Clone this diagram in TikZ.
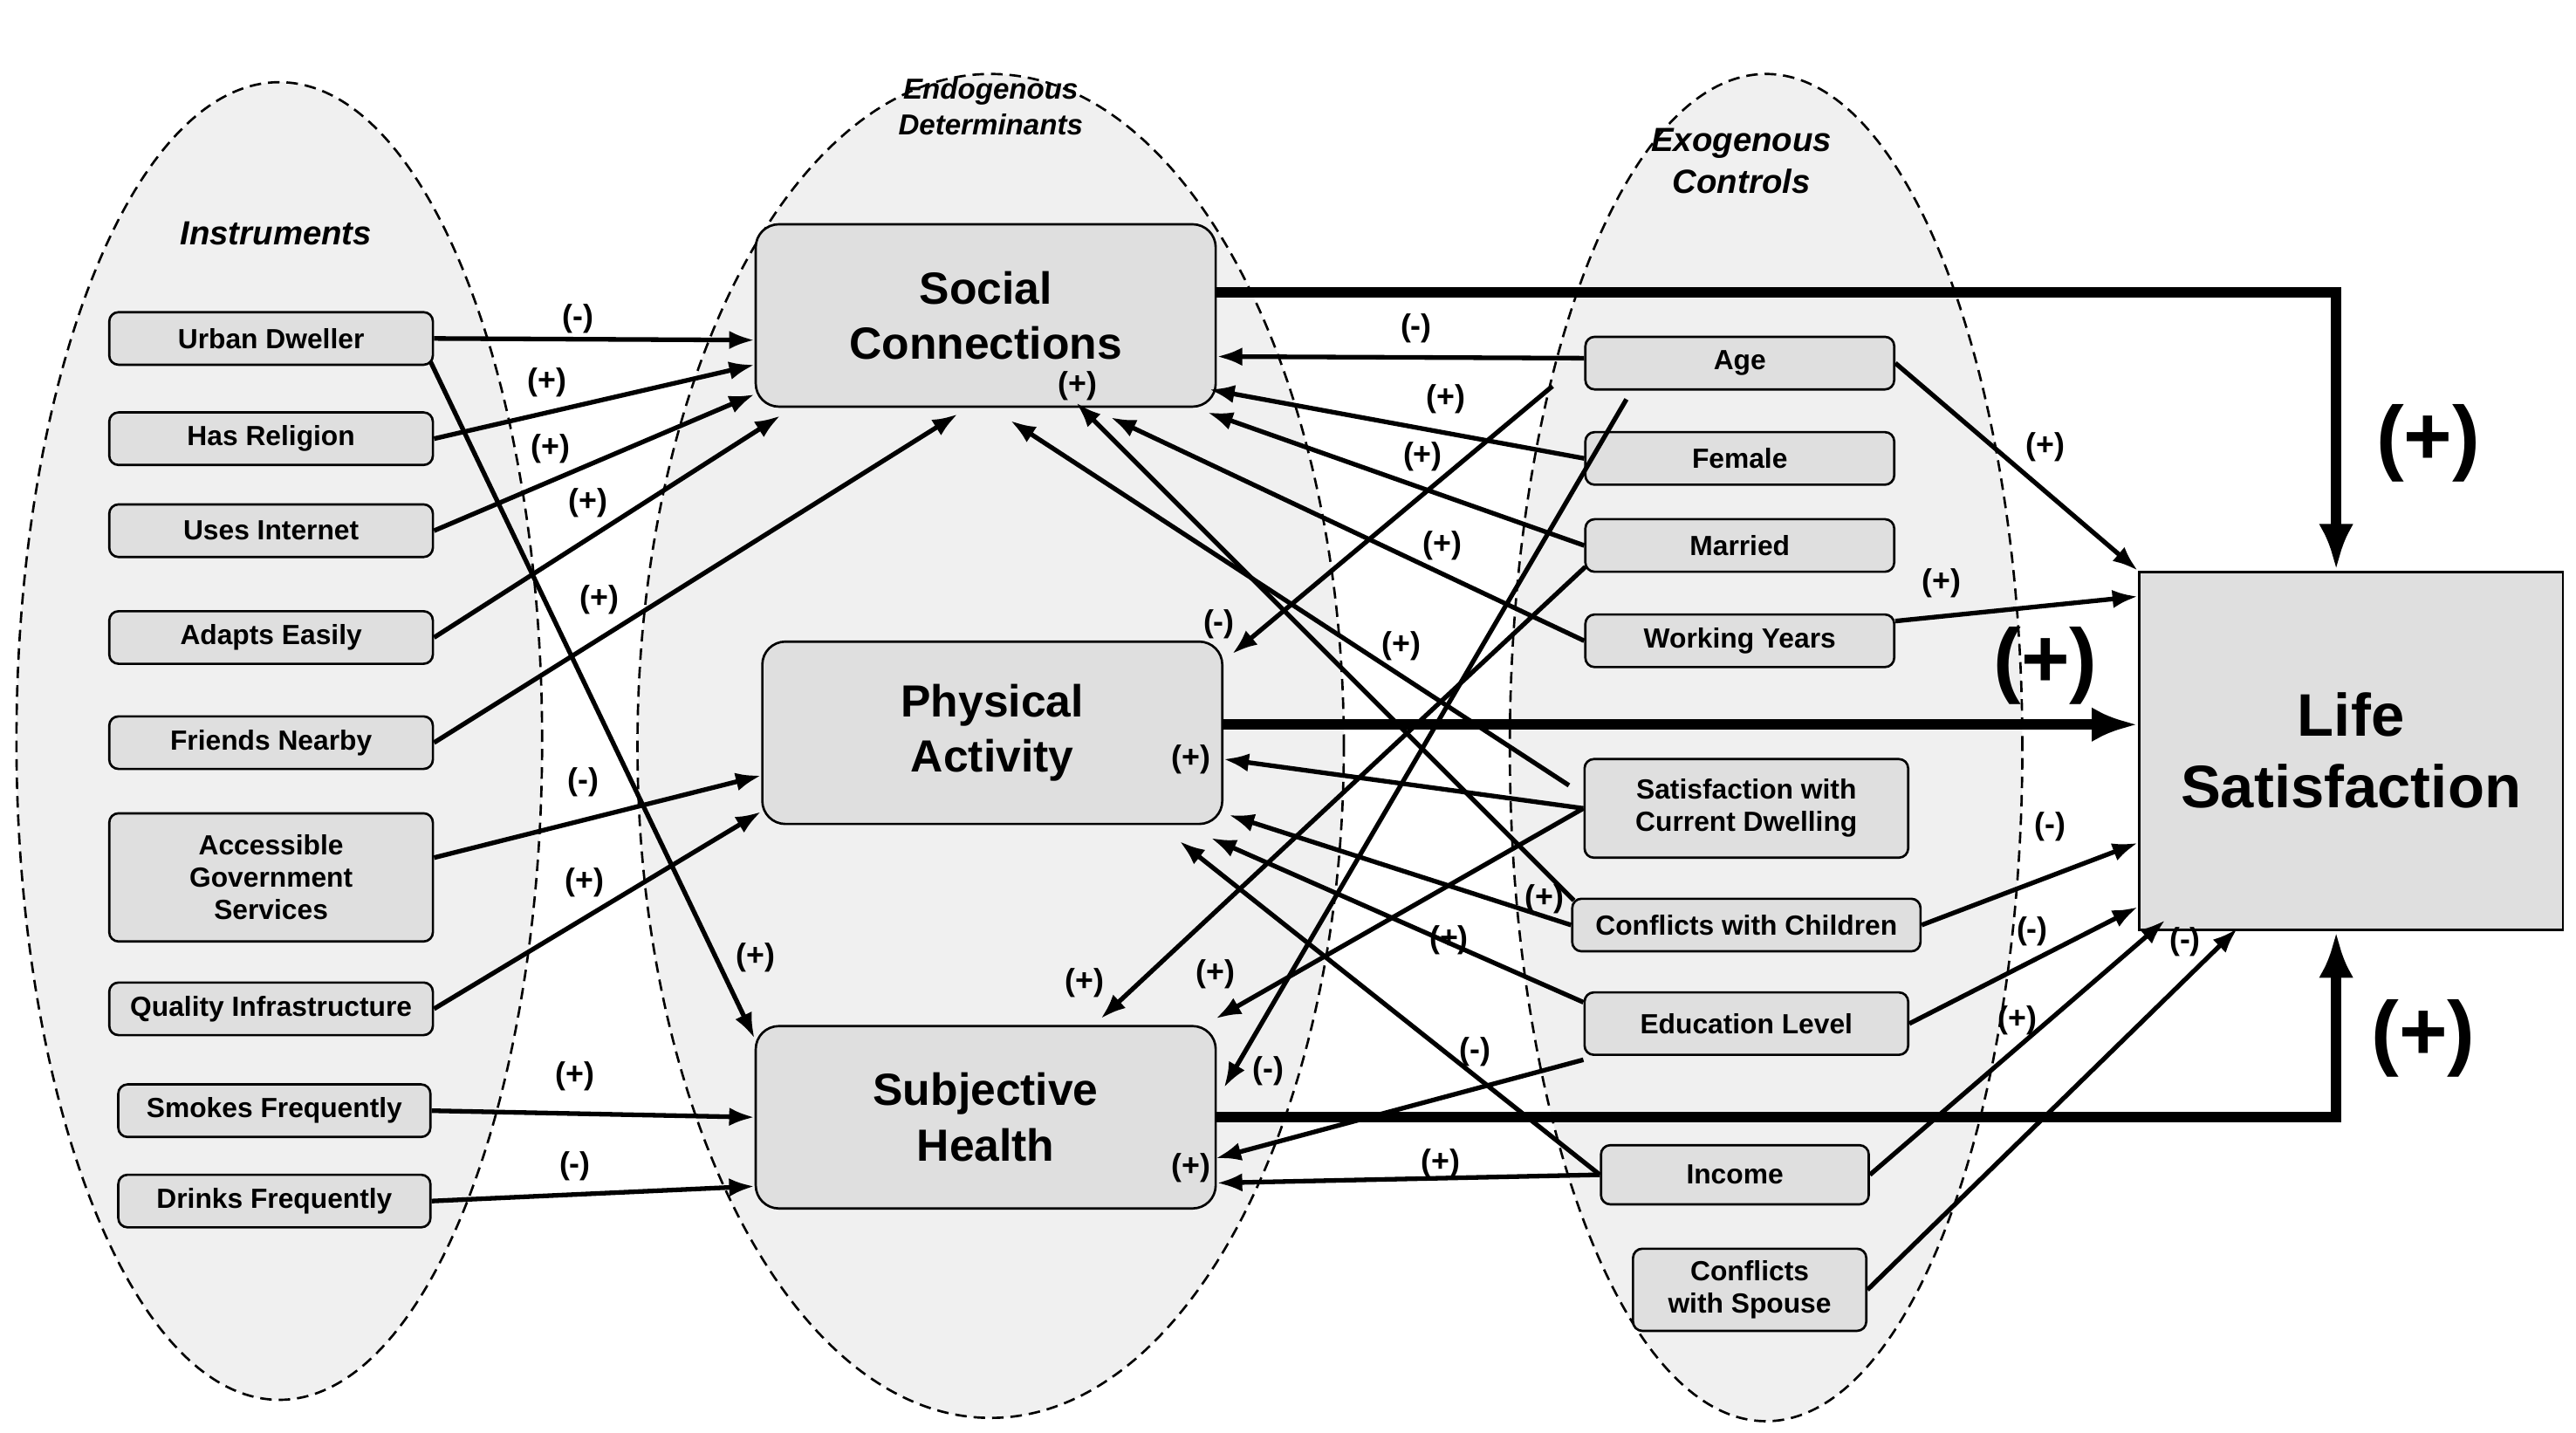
\documentclass[tikz,border=0pt]{standalone}
\usepackage{fontspec}
\setmainfont{Liberation Sans}
\usetikzlibrary{arrows.meta,shapes.geometric}
\begin{document}
\begin{tikzpicture}[x=0.05cm,y=-0.05cm,
 grp/.style={ellipse,draw,dash pattern=on 10pt off 6pt,line width=2pt,fill=gray!12},
 sb/.style={draw,rounded corners=8pt,fill=gray!25,line width=2pt,font=\fontsize{24}{28}\selectfont\bfseries,align=center,inner sep=2pt,minimum height=1.6cm},
 bb/.style={draw,rounded corners=20pt,fill=gray!25,line width=2pt,font=\fontsize{39}{48}\selectfont\bfseries,align=center,minimum width=14cm,minimum height=5.55cm},
 ar/.style={-{Latex[length=22pt,width=16pt]},line width=4pt},
 tk/.style={-{Latex[length=40pt,width=30pt]},line width=9pt},
 lb/.style={font=\fontsize{27}{30}\selectfont\bfseries},
 bl/.style={font=\fontsize{72}{76}\selectfont\bfseries},
 tt/.style={font=\fontsize{29}{36}\selectfont\bfseries\itshape,align=center}]
\useasboundingbox (0,0) rectangle (1568,872);
\node[grp,minimum width=16cm,minimum height=40.1cm] (e1) at (170,451) {};
\node[grp,minimum width=21.5cm,minimum height=40.9cm] (e2) at (603,454) {};
\node[grp,minimum width=15.6cm,minimum height=41cm] (e3) at (1075,455) {};
\node[tt] (t1) at (168,142) {Instruments};
\node[tt,font=\fontsize{25}{31}\selectfont\bfseries\itshape] (t2) at (603,65) {Endogenous\\Determinants};
\node[tt] (t3) at (1060,98) {Exogenous\\Controls};
% instruments
\node[sb,minimum width=9.85cm] (ud) at (165,206) {Urban Dweller};
\node[sb,minimum width=9.85cm] (hr) at (165,267) {Has Religion};
\node[sb,minimum width=9.85cm] (ui) at (165,323) {Uses Internet};
\node[sb,minimum width=9.85cm] (ae) at (165,388) {Adapts Easily};
\node[sb,minimum width=9.85cm] (fn) at (165,452) {Friends Nearby};
\node[sb,minimum width=9.85cm,minimum height=3.9cm] (ag) at (165,534) {Accessible\\Government\\Services};
\node[sb,minimum width=9.85cm,inner sep=1pt] (qi) at (165,614) {Quality Infrastructure};
\node[sb,minimum width=9.5cm] (sf) at (167,676) {Smokes Frequently};
\node[sb,minimum width=9.5cm] (df) at (167,731) {Drinks Frequently};
% endogenous
\node[bb] (sc) at (600,192) {Social\\Connections};
\node[bb] (pa) at (604,446) {Physical\\Activity};
\node[bb] (sh) at (600,680) {Subjective\\Health};
% exogenous
\node[sb,minimum width=9.4cm] (age) at (1059,221) {Age};
\node[sb,minimum width=9.4cm] (fe) at (1059,279) {Female};
\node[sb,minimum width=9.4cm] (ma) at (1059,332) {Married};
\node[sb,minimum width=9.4cm] (wy) at (1059,390) {Working Years};
\node[sb,minimum width=9.85cm,minimum height=3cm] (sd) at (1063,492) {Satisfaction with\\Current Dwelling};
\node[sb,minimum width=10.6cm,inner sep=1pt] (cc) at (1063,563) {Conflicts with Children};
\node[sb,minimum width=9.85cm,minimum height=1.9cm] (el) at (1063,623) {Education Level};
\node[sb,minimum width=8.15cm,minimum height=1.8cm] (in) at (1056,715) {Income};
\node[sb,minimum width=7.1cm,minimum height=2.5cm] (cs) at (1065,785) {Conflicts\\with Spouse};
\node[draw,fill=gray!25,line width=2pt,minimum width=12.9cm,minimum height=10.9cm,font=\fontsize{52}{62}\selectfont\bfseries,align=center,inner sep=1pt] (ls) at (1431,457) {Life\\Satisfaction};
% instrument arrows
\draw[ar] (ud.east) -- (sc.west |- 0,207) node[lb,pos=0.45,above] {(-)};
\draw[ar] (hr.east) -- (sc.west |- 0,222);
\node[lb] (l2) at (333,233) {(+)};
\draw[ar] (ui.east) -- (sc.west |- 0,240);
\node[lb] (l3) at (335,273) {(+)};
\draw[ar] (ae.east) -- (475,253);
\node[lb] (l4) at (358,306) {(+)};
\draw[ar] (fn.east) -- (583,252);
\node[lb] (l5) at (365,365) {(+)};
\draw[ar] (262,220) -- (sh.west |- 0,632);
\node[lb] (l6) at (460,583) {(+)};
\draw[ar] (ag.east |- 0,522) -- (pa.west |- 0,472);
\node[lb] (l7) at (355,476) {(-)};
\draw[ar] (qi.east) -- (pa.west |- 0,494);
\node[lb] (l8) at (356,537) {(+)};
\draw[ar] (sf.east) -- (sh.west |- 0,680);
\node[lb] (l9) at (350,655) {(+)};
\draw[ar] (df.east) -- (sh.west |- 0,722);
\node[lb] (l10) at (350,710) {(-)};
% exogenous -> endogenous
\draw[ar] (age.west |- 0,218) -- (sc.east |- 0,217);
\node[lb] (l11) at (862,200) {(-)};
\draw[ar] (fe.west) -- (736,237);
\node[lb] (l12) at (880,243) {(+)};
\draw[ar] (ma.west) -- (735,251);
\node[lb] (l13) at (866,278) {(+)};
\draw[ar] (wy.west) -- (676,254);
\node[lb] (l14) at (878,332) {(+)};
\draw[ar] (945,235) -- (750,398);
\node[lb] (l15) at (742,380) {(-)};
\draw[ar] (965,345) -- (670,620);
\node[lb] (l16) at (660,598) {(+)};
\draw[ar] (990,243) -- (745,662);
\node[lb] (l17) at (772,652) {(-)};
\draw[ar] (sd.west) -- (pa.east |- 0,462);
\node[lb] (l18) at (725,462) {(+)};
\draw[ar] (sd.west) -- (740,620);
\node[lb] (l19) at (740,593) {(+)};
\draw[ar] (955,478) -- (615,256);
\node[lb] (l20) at (853,393) {(+)};
\draw[ar] (cc.west) -- (748,496);
\node[lb] (l21) at (940,547) {(+)};
\draw[ar] (958,548) -- (655,245);
\node[lb] (l22) at (656,235) {(+)};
\draw[ar] (el.west |- 0,610) -- (737,510);
\node[lb] (l23) at (882,572) {(+)};
\draw[ar] (el.west |- 0,645) -- (740,705);
\node[lb] (l24) at (725,711) {(+)};
\draw[ar] (in.west) -- (sh.east |- 0,720);
\node[lb] (l25) at (877,708) {(+)};
\draw[ar] (in.west) -- (718,512);
\node[lb] (l26) at (898,640) {(-)};
% exogenous -> LS
\draw[ar] (age.east) -- (ls.north west);
\node[lb] (l27) at (1245,272) {(+)};
\draw[ar] (wy.east |- 0,378) -- (ls.west |- 0,363);
\node[lb] (l28) at (1182,355) {(+)};
\draw[ar] (cc.east) -- (ls.west |- 0,513);
\node[lb] (l29) at (1248,503) {(-)};
\draw[ar] (el.east) -- (ls.west |- 0,552);
\node[lb] (l30) at (1237,567) {(-)};
\draw[ar] (in.east) -- (1318,560);
\node[lb] (l31) at (1228,621) {(+)};
\draw[ar] (cs.east) -- (1362,565);
\node[lb] (l32) at (1330,573) {(-)};
% thick
\draw[tk] (sc.east |- 0,178) -- (1422,178) -- (1422,347);
\node[bl] (b1) at (1478,270) {(+)};
\draw[tk] (pa.east |- 0,441) -- (ls.west |- 0,441);
\node[bl] (b2) at (1245,405) {(+)};
\draw[tk] (sh.east) -- (1422,680) -- (1422,567);
\node[bl] (b3) at (1475,632) {(+)};
\end{tikzpicture}
\end{document}
